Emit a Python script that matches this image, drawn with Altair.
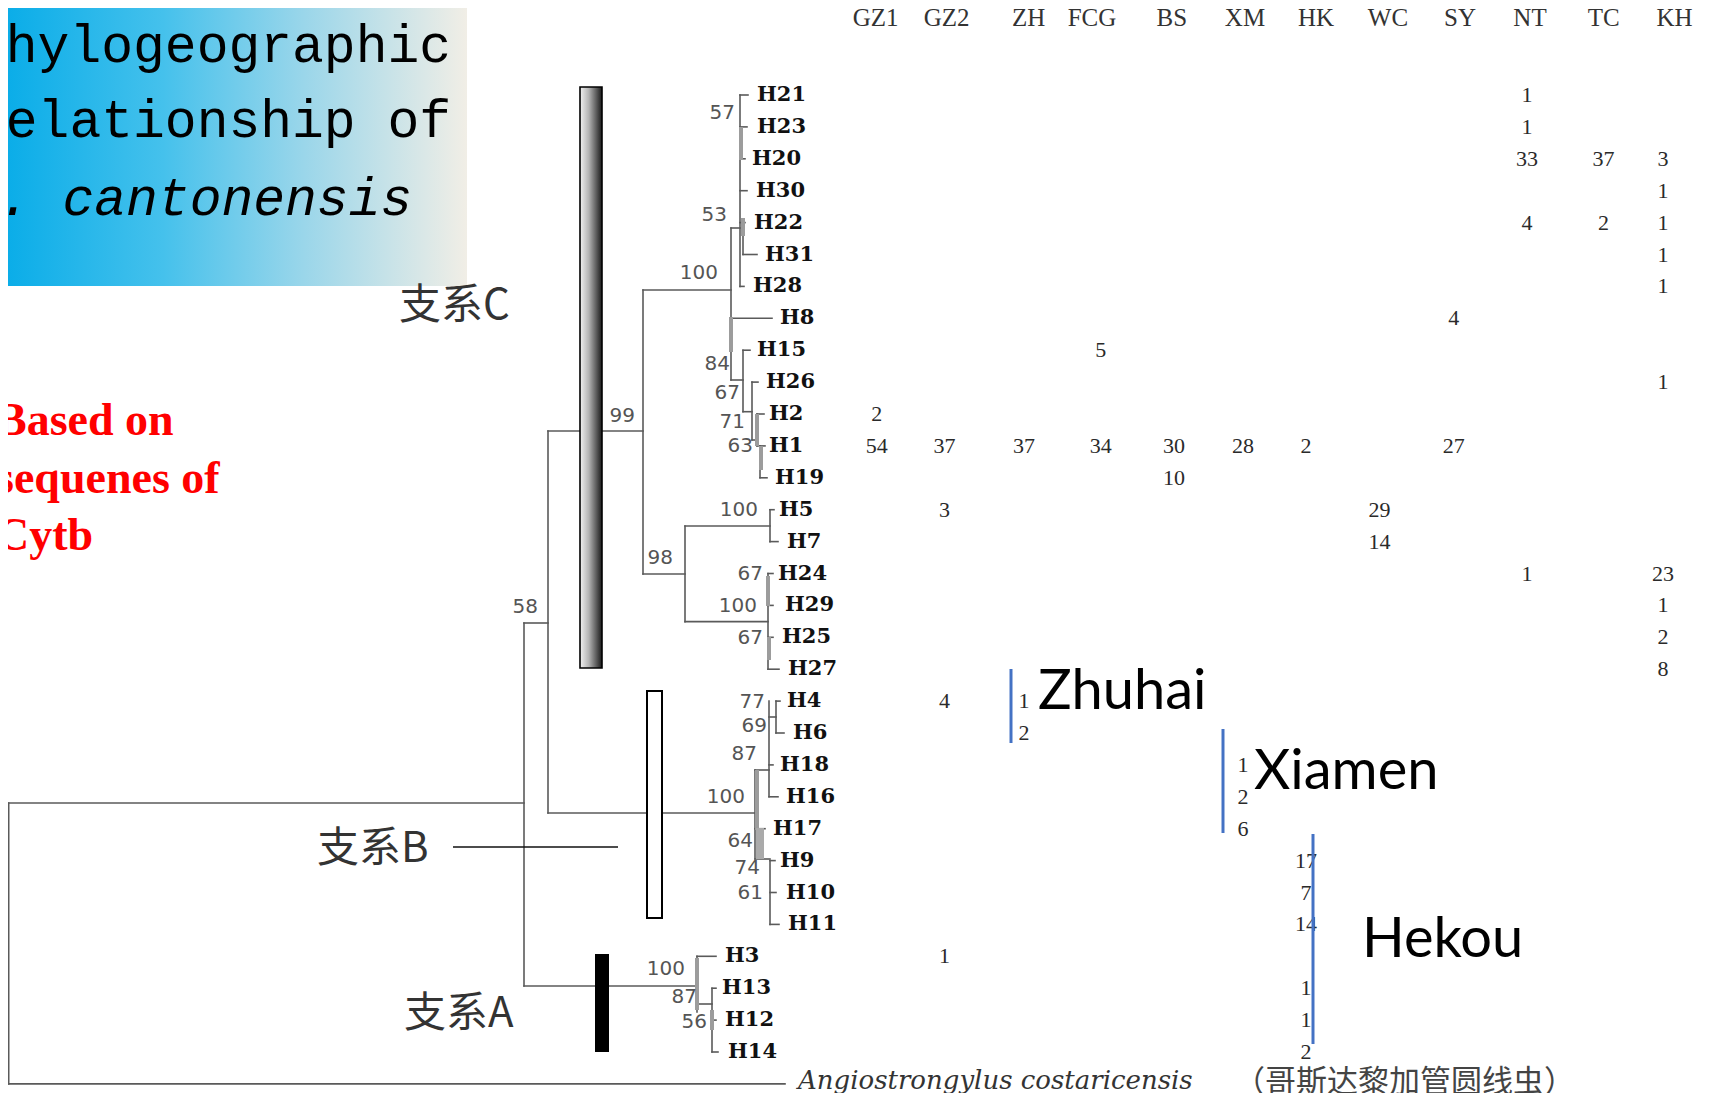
import altair as alt
import pandas as pd

# ---------------- data ----------------
HAPLOTYPES = ["H21", "H23", "H20", "H30", "H22", "H31", "H28", "H8", "H15", "H26", "H2", "H1", "H19",
              "H5", "H7", "H24", "H29", "H25", "H27",
              "H4", "H6", "H18", "H16", "H17", "H9", "H10", "H11",
              "H3", "H13", "H12", "H14"]
POPULATIONS = ["GZ1", "GZ2", "ZH", "FCG", "BS", "XM", "HK", "WC", "SY", "NT", "TC", "KH"]

CELL_HAP = ["H21", "H23", "H20", "H20", "H20", "H30", "H22", "H22", "H22", "H31", "H28", "H8", "H15", "H26", "H2",
            "H1", "H1", "H1", "H1", "H1", "H1", "H1", "H1", "H19", "H5", "H5", "H7", "H24", "H24",
            "H29", "H25", "H27", "H4", "H4", "H6", "H18", "H16", "H17", "H9", "H10", "H11",
            "H3", "H13", "H12", "H14"]
CELL_POP = ["NT", "NT", "NT", "TC", "KH", "KH", "NT", "TC", "KH", "KH", "KH", "SY", "FCG", "KH", "GZ1",
            "GZ1", "GZ2", "ZH", "FCG", "BS", "XM", "HK", "SY", "BS", "GZ2", "WC", "WC", "NT", "KH",
            "KH", "KH", "KH", "GZ2", "ZH", "ZH", "XM", "XM", "XM", "HK", "HK", "HK",
            "GZ2", "HK", "HK", "HK"]
CELL_N = [1, 1, 33, 37, 3, 1, 4, 2, 1, 1, 1, 4, 5, 1, 2,
          54, 37, 37, 34, 30, 28, 2, 27, 10, 3, 29, 14, 1, 23,
          1, 2, 8, 4, 1, 2, 1, 2, 6, 17, 7, 14,
          1, 1, 1, 2]

BOOTSTRAP = ["57", "53", "100", "84", "67", "71", "63", "99", "100", "98", "67", "100", "67",
             "77", "69", "87", "100", "64", "74", "61", "100", "87", "56", "58"]

CLADES = ["支系C", "支系B", "支系A"]
LOCATIONS = ["Zhuhai", "Xiamen", "Hekou"]
TITLE_LINES = ["Phylogeographic", "relationship of", "A. cantonensis"]
NOTE_LINES = ["Based on", "sequenes of", "Cytb"]
OUTGROUP_LATIN = "Angiostrongylus costaricensis"
OUTGROUP_CN = "（哥斯达黎加管圆线虫）"

# ---------------- layout (pixel positions) ----------------
ROW_Y0, ROW_H = 95.0, 31.9
HAP_LABEL_X = [757, 757, 752, 756, 754, 765, 753, 780, 757, 766, 769, 769, 775,
               779, 787, 778, 785, 782, 788,
               787, 793, 780, 786, 773, 780, 786, 788,
               725, 722, 725, 728]
COL_X = [875.6, 946.6, 1028.6, 1092, 1171.8, 1245, 1316, 1388, 1460, 1530, 1603.6, 1674.6]
CELL_X = [876.7, 944.4, 1024, 1100.8, 1174, 1243, 1306, 1379.5, 1453.8, 1527, 1603.6, 1663]
BOOT_POS = [(735, 112.5), (727, 214.5), (718, 273), (730, 364), (740, 393), (745, 422), (753, 446),
            (635, 416), (758, 510), (673, 558), (763, 574), (757, 605.5), (763, 637.7),
            (765, 702), (767, 725.7), (757, 754), (745, 797), (753, 840.5), (760, 868.4), (763, 892.5),
            (685, 968.7), (697, 997.4), (707, 1021.5), (538, 607)]


def ry(i):
    return ROW_Y0 + ROW_H * i


R = {h: ry(i) for i, h in enumerate(HAPLOTYPES)}
OUT_Y = ry(len(HAPLOTYPES))

BRANCHES = [
    # root and backbone
    (8.7, 803, 8.7, OUT_Y), (8.7, 803, 524, 803), (8.7, OUT_Y, 785, OUT_Y),
    (524, 623, 524, 986), (524, 623, 548, 623), (524, 986, 697, 986),
    (548, 431, 548, 813), (548, 431, 643, 431), (548, 813, 755, 813),
    (643, 290, 643, 574), (643, 290, 731, 290), (643, 574, 685, 574),
    # clade C2
    (685, 526, 685, 621.6), (685, 526, 770, 526), (770, R["H5"], 770, R["H7"]),
    (770, R["H5"], 774, R["H5"]), (770, R["H7"], 778, R["H7"]),
    (685, 621.6, 768, 621.6), (768, R["H24"], 768, R["H27"]),
    (768, R["H24"], 773, R["H24"]), (768, R["H29"], 773, R["H29"]),
    (768, R["H25"], 773, R["H25"]), (768, R["H27"], 779, R["H27"]),
    # clade C1
    (731, 228, 731, 380), (731, 228, 740, 228), (740, R["H21"], 740, R["H28"]),
    (740, R["H21"], 748, R["H21"]), (740, R["H23"], 747, R["H23"]), (740, R["H20"], 745, R["H20"]),
    (740, R["H30"], 747, R["H30"]), (740, R["H22"], 745, R["H22"]), (740, R["H28"], 744, R["H28"]),
    (743, R["H22"], 743, R["H31"]), (743, R["H31"], 757, R["H31"]),
    (731, R["H8"], 772, R["H8"]),
    (731, 380, 743, 380), (743, R["H15"], 743, 411.7), (743, R["H15"], 750, R["H15"]),
    (743, 411.7, 752, 411.7), (752, R["H26"], 752, 440), (752, R["H26"], 758, R["H26"]),
    (752, 440, 757, 440), (757, R["H2"], 757, R["H1"]), (757, R["H2"], 764, R["H2"]),
    (757, R["H1"], 760, R["H1"]), (760, R["H1"], 760, R["H19"]), (760, R["H1"], 765, R["H1"]),
    (760, R["H19"], 767, R["H19"]),
    # clade B
    (755, 770, 755, 859), (755, 770, 769, 770), (769, R["H4"], 769, R["H16"]),
    (769, R["H16"], 778, R["H16"]), (769, R["H18"], 773, R["H18"]), (769, 717, 776, 717),
    (776, R["H4"], 776, R["H6"]), (776, R["H4"], 780, R["H4"]), (776, R["H6"], 784, R["H6"]),
    (755, R["H17"], 765, R["H17"]), (755, 859, 770, 859),
    (770, R["H9"], 770, R["H11"]), (770, R["H9"], 775, R["H9"]), (770, R["H10"], 776, R["H10"]),
    (770, R["H11"], 779, R["H11"]),
    # clade A
    (697, R["H3"], 697, 1012), (697, R["H3"], 716, R["H3"]), (697, 1004, 712, 1004),
    (712, R["H13"], 712, R["H14"]), (712, R["H13"], 716, R["H13"]),
    (712, R["H12"], 716, R["H12"]), (712, R["H14"], 718, R["H14"]),
]
THICK = [
    (731, 317, 731, 352), (741, 127, 741, 160), (757, 414, 757, 446), (761, 446, 761, 470),
    (768, 576, 768, 606), (769, 637, 769, 660), (757, 770, 757, 830), (697, 958, 697, 1010),
    (712, 1010, 712, 1030), (743, 218, 743, 236),
]

XS = alt.Scale(domain=[8, 1706], nice=False, zero=False)
YS = alt.Scale(domain=[8, 1093], nice=False, zero=False, reverse=True)


def seg_df(rows):
    return pd.DataFrame(rows, columns=["x1", "y1", "x2", "y2"])


def rules(df, **mk):
    return alt.Chart(df).mark_rule(**mk).encode(
        x=alt.X("x1:Q", scale=XS, axis=None), x2="x2:Q",
        y=alt.Y("y1:Q", scale=YS, axis=None), y2="y2:Q")


def rects(df, **mk):
    return alt.Chart(df).mark_rect(**mk).encode(
        x=alt.X("x1:Q", scale=XS, axis=None), x2="x2:Q",
        y=alt.Y("y1:Q", scale=YS, axis=None), y2="y2:Q")


def texts(df, **mk):
    return alt.Chart(df).mark_text(**mk).encode(
        x=alt.X("x:Q", scale=XS, axis=None),
        y=alt.Y("y:Q", scale=YS, axis=None),
        text="t:N")


layers = []

# title box with gradient
layers.append(rects(seg_df([(0, 0, 467, 286)]), fill={
    "gradient": "linear", "x1": 0, "x2": 1, "y1": 0, "y2": 0,
    "stops": [{"offset": 0, "color": "#08ACE8"}, {"offset": 0.35, "color": "#45C1EC"},
              {"offset": 0.65, "color": "#9AD6EA"}, {"offset": 1, "color": "#F1EEE6"}]}))
layers.append(texts(pd.DataFrame({"x": [-26, -26], "y": [62, 137], "t": TITLE_LINES[:2]}),
                    font="Liberation Mono", fontSize=53, align="left", baseline="alphabetic", color="#000"))
layers.append(texts(pd.DataFrame({"x": [-33], "y": [215], "t": TITLE_LINES[2:]}),
                    font="Liberation Mono", fontSize=53, fontStyle="italic", align="left",
                    baseline="alphabetic", color="#000"))
layers.append(texts(pd.DataFrame({"x": [-4, -4, -4], "y": [435, 493, 550], "t": NOTE_LINES}),
                    font="Liberation Serif", fontSize=46, fontWeight="bold", align="left",
                    baseline="alphabetic", color="#FF0000"))

# tree
layers.append(rules(seg_df(BRANCHES), color="#5a5a5a", strokeWidth=1.6, strokeCap="square"))
layers.append(rules(seg_df(THICK), color="#9c9c9c", strokeWidth=4))
layers.append(rules(seg_df([(760, 828, 760, 859)]), color="#aaaaaa", strokeWidth=8))
layers.append(rules(seg_df([(453, 847, 618, 847)]), color="#111", strokeWidth=1.6))

# clade bars
layers.append(rects(seg_df([(580, 87, 602, 668)]), stroke="#000", strokeWidth=1.6, fill={
    "gradient": "linear", "x1": 0, "x2": 1, "y1": 0, "y2": 0,
    "stops": [{"offset": 0, "color": "#f2f2f2"}, {"offset": 0.4, "color": "#b4b4b4"},
              {"offset": 0.75, "color": "#5a5a5a"}, {"offset": 1, "color": "#1a1a1a"}]}))
layers.append(rects(seg_df([(647, 691, 662, 918)]), fill="#ffffff", stroke="#000", strokeWidth=2))
layers.append(rects(seg_df([(595, 954, 609, 1052)]), fill="#000000"))

layers.append(texts(pd.DataFrame({"x": [399, 317, 404], "y": [306, 849, 1014], "t": CLADES}),
                    font="Noto Sans CJK SC", fontSize=42, align="left", baseline="middle", color="#333"))

# haplotype labels
layers.append(texts(pd.DataFrame({"x": HAP_LABEL_X, "y": [ry(i) for i in range(len(HAPLOTYPES))],
                                  "t": HAPLOTYPES}),
                    font="DejaVu Serif", fontSize=21, fontWeight="bold", align="left",
                    baseline="middle", color="#111"))
# bootstrap
layers.append(texts(pd.DataFrame({"x": [p[0] for p in BOOT_POS], "y": [p[1] for p in BOOT_POS],
                                  "t": BOOTSTRAP}),
                    font="DejaVu Sans", fontSize=20, align="right", baseline="middle", color="#555"))

# table header and values
layers.append(texts(pd.DataFrame({"x": COL_X, "y": [18] * len(COL_X), "t": POPULATIONS}),
                    font="Liberation Serif", fontSize=25, align="center", baseline="middle", color="#333"))
cells = pd.DataFrame({
    "x": [CELL_X[POPULATIONS.index(p)] for p in CELL_POP],
    "y": [R[h] for h in CELL_HAP],
    "t": [str(n) for n in CELL_N]})
layers.append(texts(cells, font="Liberation Serif", fontSize=22, align="center",
                    baseline="middle", color="#2a2a2a"))

# location annotations
layers.append(rules(seg_df([(1011, 669, 1011, 743), (1223, 729, 1223, 833), (1313, 834, 1313, 1044)]),
                    color="#4472C4", strokeWidth=3))
layers.append(texts(pd.DataFrame({"x": [1038, 1254, 1362], "y": [692, 772, 940], "t": LOCATIONS}),
                    font="Lato", fontSize=56, align="left", baseline="middle", color="#000"))

# outgroup label
layers.append(texts(pd.DataFrame({"x": [798], "y": [1089], "t": [OUTGROUP_LATIN]}),
                    font="DejaVu Serif", fontSize=26, fontStyle="italic", align="left",
                    baseline="alphabetic", color="#333"))
layers.append(texts(pd.DataFrame({"x": [1234], "y": [1083], "t": [OUTGROUP_CN]}),
                    font="Noto Sans CJK SC", fontSize=31, align="left", baseline="middle", color="#444"))

chart = alt.layer(*layers).properties(
    width=1698, height=1085, padding=0, autosize="none"
).configure_view(stroke=None)

chart.save("out.html", embed_options={"renderer": "svg", "actions": False})
